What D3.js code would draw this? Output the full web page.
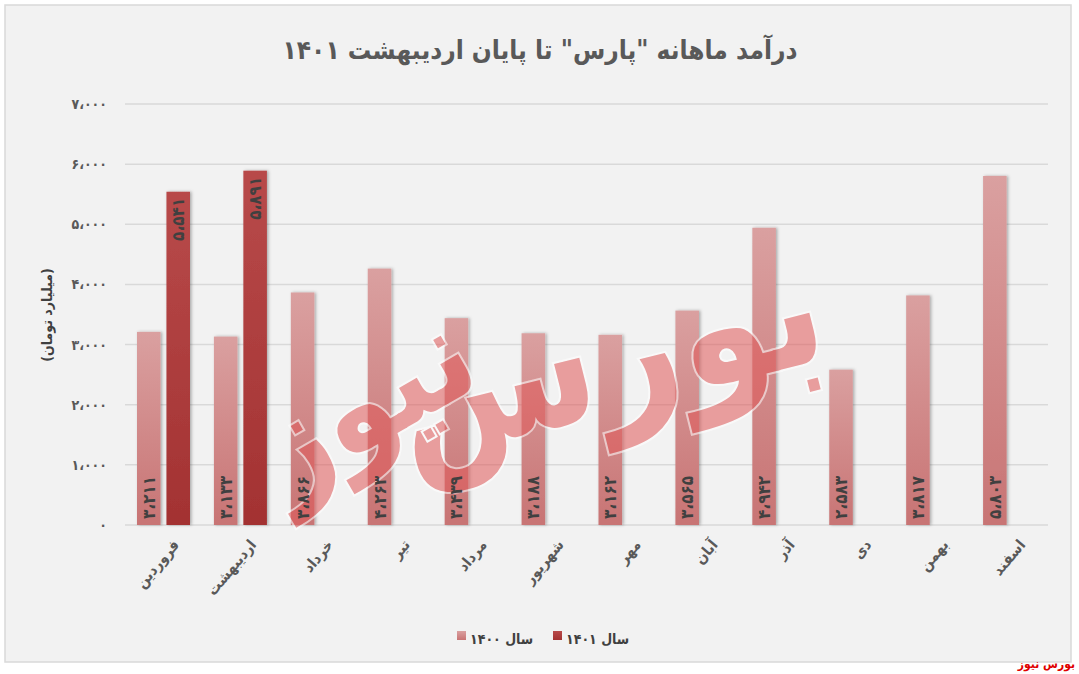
<!DOCTYPE html>
<html><head><meta charset="utf-8">
<script src="https://cdn.jsdelivr.net/npm/d3@7/dist/d3.min.js"></script>
<style>
html,body{margin:0;padding:0;background:#fff;}
svg{display:block;}
text{font-family:"DejaVu Sans Condensed","DejaVu Sans",sans-serif;font-weight:bold;}
</style></head>
<body>
<script>
const months = ["فروردین","اردیبهشت","خرداد","تیر","مرداد","شهریور","مهر","آبان","آذر","دی","بهمن","اسفند"];
const series = ["1400","1401"];
const seriesNames = ["سال ۱۴۰۰","سال ۱۴۰۱"];
const values1400 = [3211,3133,3866,4263,3439,3188,3162,3565,4942,2583,3817,5803];
const values1401 = [5541,5891,null,null,null,null,null,null,null,null,null,null];
const yTicks = [0,1000,2000,3000,4000,5000,6000,7000];
const title = "درآمد ماهانه \"پارس\" تا پایان اردیبهشت ۱۴۰۱";
const yTitle = "(میلیارد تومان)";

const W=1079,H=674;
const fa = s => String(s).replace(/\d/g,d=>"۰۱۲۳۴۵۶۷۸۹"[d]);
const fmt = v => fa(d3.format(",")(v)).replace(/,/g,"،");

const svg=d3.select("body").append("svg").attr("width",W).attr("height",H);
const defs=svg.append("defs");
const g1=defs.append("linearGradient").attr("id","g1400").attr("x1",0).attr("y1",0).attr("x2",0).attr("y2",1);
g1.append("stop").attr("offset","0%").attr("stop-color","#daa0a0");
g1.append("stop").attr("offset","100%").attr("stop-color","#c87474");
const g2=defs.append("linearGradient").attr("id","g1401").attr("x1",0).attr("y1",0).attr("x2",0).attr("y2",1);
g2.append("stop").attr("offset","0%").attr("stop-color","#b84a4a");
g2.append("stop").attr("offset","100%").attr("stop-color","#a33232");
const f=defs.append("filter").attr("id","sh").attr("x","-30%").attr("y","-10%").attr("width","160%").attr("height","120%");
f.append("feDropShadow").attr("dx",1.5).attr("dy",0).attr("stdDeviation",1.5).attr("flood-color","#000").attr("flood-opacity",0.3);

svg.append("rect").attr("x",5).attr("y",5).attr("width",1066).attr("height",657)
  .attr("fill","#f2f2f2").attr("stroke","#d9d9d9").attr("stroke-width",1.5);

const x=d3.scaleBand().domain(months).range([125,1048]).padding(0);
const x1=d3.scaleBand().domain(series).range([12,65]).paddingInner(0.2);
const y=d3.scaleLinear().domain([0,7000]).range([525,104]);

// grid
svg.append("g").selectAll("line").data(yTicks).join("line")
  .attr("x1",125).attr("x2",1048).attr("y1",d=>y(d)).attr("y2",d=>y(d))
  .attr("stroke","#d9d9d9").attr("stroke-width",1.5);

// y axis labels
const yAxis=d3.axisLeft(y).tickValues(yTicks).tickFormat(d=>d===0?"۰":fmt(d)).tickSize(0).tickPadding(0);
const ya=svg.append("g").attr("transform","translate(107,0)").call(yAxis);
ya.select(".domain").remove();
ya.selectAll("text").attr("fill","#595959").attr("font-size",14).style("font-family","DejaVu Sans Condensed, DejaVu Sans").style("font-weight","bold");

// bars
const data=[];
months.forEach((m,i)=>{
  if(values1400[i]!=null) data.push({m,s:"1400",v:values1400[i]});
  if(values1401[i]!=null) data.push({m,s:"1401",v:values1401[i]});
});
svg.append("g").selectAll("rect").data(data).join("rect")
  .attr("x",d=>x(d.m)+x1(d.s)).attr("width",x1.bandwidth())
  .attr("y",d=>y(d.v)).attr("height",d=>y(0)-y(d.v))
  .attr("fill",d=>d.s==="1400"?"url(#g1400)":"url(#g1401)")
  .attr("filter","url(#sh)");

// watermark
const wm=svg.append("g").attr("opacity",0.55);
wm.append("text").attr("transform","translate(620,410) rotate(-14)").attr("text-anchor","middle")
  .attr("font-size",165).attr("fill","#e05858").attr("stroke","#fff").attr("stroke-width",4).attr("paint-order","stroke").text("بورس");
wm.append("text").attr("transform","translate(385,440) rotate(-30)").attr("text-anchor","middle")
  .attr("font-size",130).attr("fill","#e05858").attr("stroke","#fff").attr("stroke-width",4).attr("paint-order","stroke").text("نیوز");

// data labels
svg.append("g").selectAll("text").data(data).join("text")
  .attr("transform",d=>{
    const cx=x(d.m)+x1(d.s)+x1.bandwidth()/2;
    const yy=d.s==="1400"?y(0)-6:y(d.v)+6;
    return `translate(${cx},${yy}) rotate(-90)`;
  })
  .attr("text-anchor",d=>d.s==="1400"?"start":"end")
  .attr("dominant-baseline","central")
  .attr("font-size",17).attr("fill","#404040")
  .text(d=>fmt(d.v));

// x labels
svg.append("g").selectAll("text").data(months).join("text")
  .attr("transform",d=>`translate(${x(d)+x.bandwidth()/2+8},538) rotate(-50)`)
  .attr("text-anchor","end").attr("dominant-baseline","hanging")
  .attr("font-size",15).attr("fill","#595959").text(d=>d);

// title
svg.append("text").attr("x",540).attr("y",59).attr("text-anchor","middle")
  .attr("font-size",26).attr("fill","#595959").text(title);

// y title
svg.append("text").attr("transform","translate(47,315) rotate(-90)").attr("text-anchor","middle")
  .attr("dominant-baseline","central").attr("font-size",14).attr("fill","#404040").text(yTitle);

// legend
const legX=[457,553];
const leg=svg.append("g").selectAll("g").data(series).join("g")
  .attr("transform",(d,i)=>`translate(${legX[i]},0)`);
leg.append("rect").attr("x",0).attr("y",631).attr("width",9).attr("height",9)
  .attr("fill",d=>d==="1400"?"url(#g1400)":"url(#g1401)");
leg.append("text").attr("x",13).attr("y",644).attr("font-size",14).attr("fill","#404040")
  .text((d,i)=>seriesNames[i]);

// source
svg.append("text").attr("x",1075).attr("y",668).attr("text-anchor","end")
  .attr("font-size",12).attr("fill","#e00000").text("بورس نیوز");
</script>
</body></html>
